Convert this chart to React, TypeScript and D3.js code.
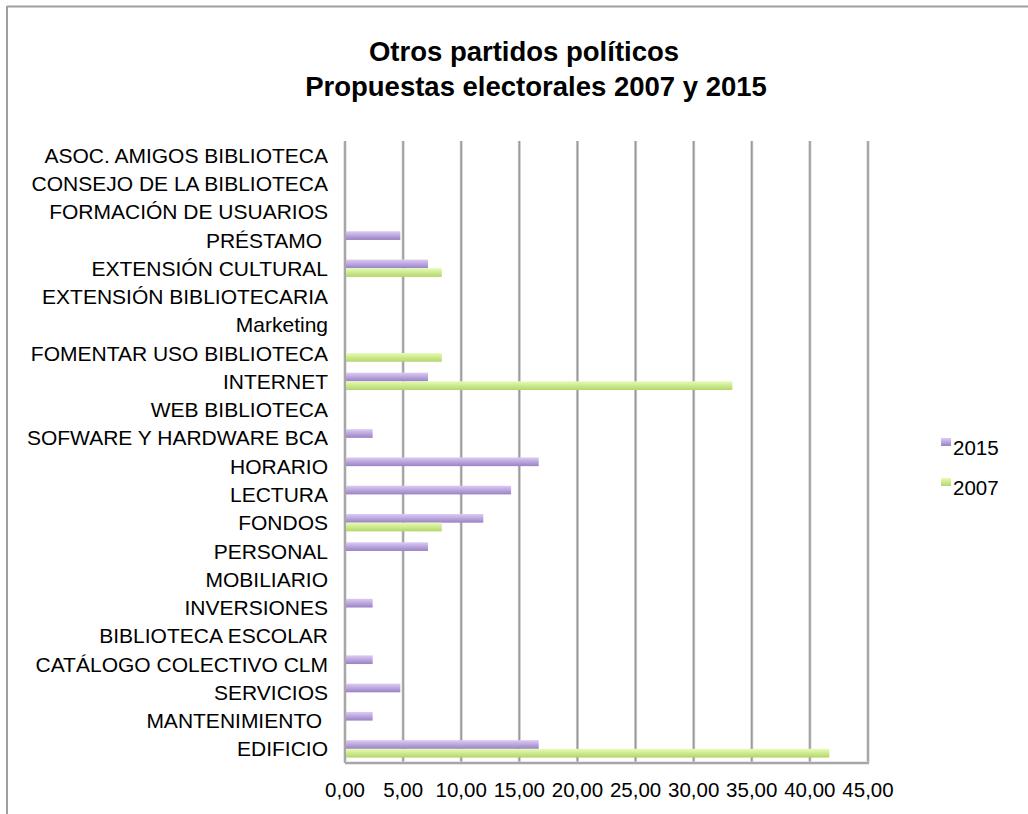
import React from "react";
import * as d3 from "d3";

const categories = [
  "ASOC. AMIGOS BIBLIOTECA",
  "CONSEJO DE LA BIBLIOTECA",
  "FORMACIÓN DE USUARIOS",
  "PRÉSTAMO ",
  "EXTENSIÓN CULTURAL",
  "EXTENSIÓN BIBLIOTECARIA",
  "Marketing",
  "FOMENTAR USO BIBLIOTECA",
  "INTERNET",
  "WEB BIBLIOTECA",
  "SOFWARE Y HARDWARE BCA",
  "HORARIO",
  "LECTURA",
  "FONDOS",
  "PERSONAL",
  "MOBILIARIO",
  "INVERSIONES",
  "BIBLIOTECA ESCOLAR",
  "CATÁLOGO COLECTIVO CLM",
  "SERVICIOS",
  "MANTENIMIENTO ",
  "EDIFICIO",
];

const values2015 = [0, 0, 0, 4.76, 7.14, 0, 0, 0, 7.14, 0, 2.38, 16.67, 14.29, 11.9, 7.14, 0, 2.38, 0, 2.38, 4.76, 2.38, 16.67];
const values2007 = [0, 0, 0, 0, 8.33, 0, 0, 8.33, 33.33, 0, 0, 0, 0, 8.33, 0, 0, 0, 0, 0, 0, 0, 41.67];

const seriesNames = ["2015", "2007"];
const xTicks = [0, 5, 10, 15, 20, 25, 30, 35, 40, 45];
const titleLines = ["Otros partidos políticos", "Propuestas electorales 2007 y 2015"];

const W = 1028;
const H = 814;
const left = 345;
const right = 868;
const top = 141;
const bottom = 763;

export default function App() {
  const x = d3.scaleLinear().domain([0, 45]).range([left, right]);
  const y = d3
    .scaleBand<string>()
    .domain(categories)
    .range([top, bottom])
    .paddingInner(0.385)
    .paddingOuter(0.1925);
  const inner = d3.scaleBand<string>().domain(seriesNames).range([0, y.bandwidth()]);
  const fmt = (v: number) => v.toFixed(2).replace(".", ",");
  const series = [
    { name: "2015", values: values2015, grad: "gPurple" },
    { name: "2007", values: values2007, grad: "gGreen" },
  ];
  const font = "'Liberation Sans', Arial, Helvetica, sans-serif";

  return (
    <svg
      width={W}
      height={H}
      style={{ position: "absolute", left: 0, top: 0, display: "block" }}
      fontFamily={font}
    >
      <defs>
        <linearGradient id="gPurple" x1="0" y1="0" x2="0" y2="1">
          <stop offset="0" stopColor="#dccbf4" />
          <stop offset="1" stopColor="#9a82c6" />
        </linearGradient>
        <linearGradient id="gGreen" x1="0" y1="0" x2="0" y2="1">
          <stop offset="0" stopColor="#e6fcb4" />
          <stop offset="1" stopColor="#b3d66a" />
        </linearGradient>
      </defs>
      <rect x={0} y={0} width={W} height={H} fill="#ffffff" />
      {/* outer frame */}
      <line x1={7} y1={6.5} x2={W} y2={6.5} stroke="#a0a0a0" strokeWidth={2} />
      <line x1={7} y1={6} x2={7} y2={H} stroke="#a0a0a0" strokeWidth={2} />

      {/* title */}
      <text x={524} y={61} textAnchor="middle" fontSize={27.5} fontWeight="bold" fill="#000">
        {titleLines[0]}
      </text>
      <text x={536} y={96} textAnchor="middle" fontSize={27.5} fontWeight="bold" fill="#000">
        {titleLines[1]}
      </text>

      {/* grid lines */}
      {xTicks.map((t) => (
        <g key={"g" + t}>
          <line x1={x(t)} x2={x(t)} y1={top} y2={bottom} stroke="#cfcfcf" strokeWidth={3} />
          <line x1={x(t)} x2={x(t)} y1={top} y2={bottom} stroke="#9a9a9a" strokeWidth={1.5} />
        </g>
      ))}
      <line x1={left} x2={right + 1} y1={bottom} y2={bottom} stroke="#cfcfcf" strokeWidth={3} />
      <line x1={left} x2={right + 1} y1={bottom} y2={bottom} stroke="#9a9a9a" strokeWidth={1.5} />

      {/* bars */}
      {series.map((s) =>
        categories.map((c, i) =>
          s.values[i] > 0 ? (
            <rect
              key={s.name + c}
              x={x(0) + 1}
              y={(y(c) as number) + (inner(s.name) as number)}
              width={x(s.values[i]) - x(0) - 1}
              height={inner.bandwidth()}
              fill={`url(#${s.grad})`}
            />
          ) : null
        )
      )}

      {/* category labels */}
      {categories.map((c) => (
        <text
          key={"l" + c}
          x={328}
          y={(y(c) as number) + y.bandwidth() / 2}
          dy="0.36em"
          textAnchor="end"
          fontSize={21}
          fill="#000"
          style={{ whiteSpace: "pre" }}
        >
          {c}
        </text>
      ))}

      {/* x tick labels */}
      {xTicks.map((t) => (
        <text key={"t" + t} x={x(t)} y={797} textAnchor="middle" fontSize={20.5} fill="#000">
          {fmt(t)}
        </text>
      ))}

      {/* legend */}
      {series.map((s, i) => (
        <g key={"lg" + s.name} transform={`translate(941, ${438 + i * 40})`}>
          <rect x={0} y={0} width={10} height={8} fill={`url(#${s.grad})`} />
          <text x={12} y={17} fontSize={20.5} fill="#000">
            {s.name}
          </text>
        </g>
      ))}
    </svg>
  );
}
